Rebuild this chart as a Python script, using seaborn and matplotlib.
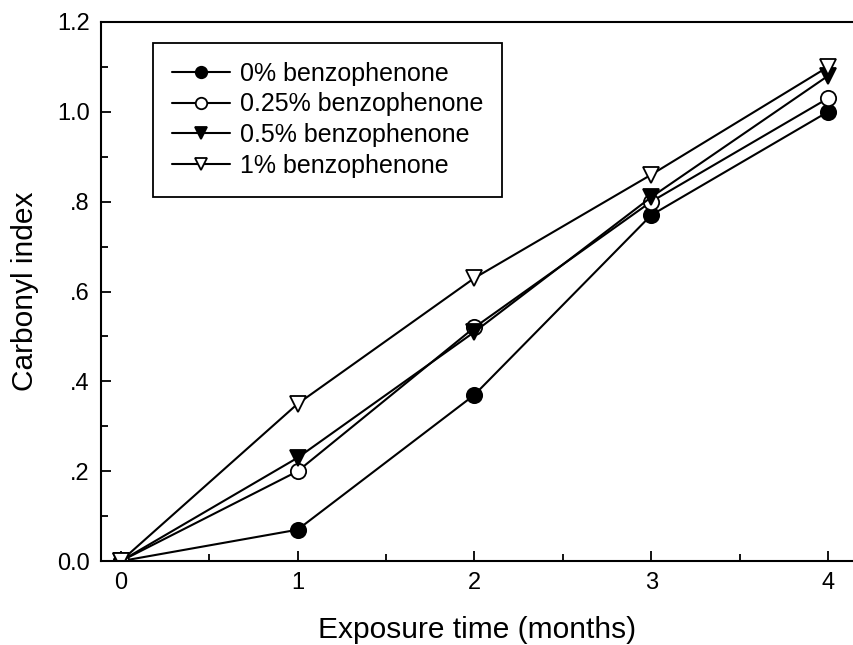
import matplotlib
matplotlib.use("Agg")
import matplotlib.pyplot as plt
import seaborn as sns
import pandas as pd
from matplotlib.ticker import MultipleLocator, FixedLocator, FixedFormatter

# ---- data ----
months = [0, 1, 2, 3, 4]
bp_0 = [0.0, 0.07, 0.37, 0.77, 1.00]
bp_025 = [0.0, 0.20, 0.52, 0.80, 1.03]
bp_05 = [0.0, 0.23, 0.51, 0.81, 1.08]
bp_1 = [0.0, 0.35, 0.63, 0.86, 1.10]
series_labels = ["0% benzophenone", "0.25% benzophenone", "0.5% benzophenone", "1% benzophenone"]
ytick_values = [0.0, 0.2, 0.4, 0.6, 0.8, 1.0, 1.2]
ytick_labels = ["0.0", ".2", ".4", ".6", ".8", "1.0", "1.2"]
xtick_values = [0, 1, 2, 3, 4]

sns.set_theme(style="ticks")
plt.rcParams["font.family"] = ["Liberation Sans", "DejaVu Sans"]
plt.rcParams["text.color"] = "black"
plt.rcParams["axes.labelcolor"] = "black"

fig = plt.figure(figsize=(8.54, 6.45), dpi=100)
ax = fig.add_axes([0.118, 0.130, 0.882, 0.836])

styles = [
    dict(marker="o", markerfacecolor="black"),
    dict(marker="o", markerfacecolor="white"),
    dict(marker="v", markerfacecolor="black"),
    dict(marker="v", markerfacecolor="white"),
]
all_series = [bp_0, bp_025, bp_05, bp_1]
for vals, lab, st in zip(all_series, series_labels, styles):
    df = pd.DataFrame({"month": months, "ci": vals})
    sns.lineplot(data=df, x="month", y="ci", ax=ax, color="black", linewidth=1.5,
                 markersize=11, markeredgecolor="black", markeredgewidth=1.3,
                 label=lab, **st)

ax.set_xlim(-0.113, 4.147)
ax.set_ylim(0, 1.2)
ax.xaxis.set_major_locator(FixedLocator(xtick_values))
ax.xaxis.set_minor_locator(MultipleLocator(0.5))
ax.yaxis.set_major_locator(FixedLocator(ytick_values))
ax.yaxis.set_major_formatter(FixedFormatter(ytick_labels))
ax.yaxis.set_minor_locator(MultipleLocator(0.1))
ax.tick_params(which="both", direction="in", width=1.3, colors="black", labelsize=17)
ax.tick_params(which="major", length=7, pad=8)
ax.tick_params(which="minor", length=5)

ax.spines["right"].set_visible(False)
for s in ["left", "bottom", "top"]:
    ax.spines[s].set_linewidth(1.5)
    ax.spines[s].set_color("black")

ax.set_xlabel("Exposure time (months)", fontsize=21.5, labelpad=16, color="black")
ax.set_ylabel("Carbonyl index", fontsize=21.5, color="black")
ax.yaxis.set_label_coords(-0.082, 0.5)

leg = ax.legend(loc="upper left", bbox_to_anchor=(0.070, 0.961), borderaxespad=0,
                fontsize=18, frameon=True, fancybox=False, edgecolor="black",
                framealpha=1, handlelength=2.3, handletextpad=0.4,
                labelspacing=0.27, markerscale=0.75, borderpad=0.75)
leg.get_frame().set_linewidth(1.3)
for t in leg.get_texts():
    t.set_color("black")

fig.savefig("out.png", dpi=100)
